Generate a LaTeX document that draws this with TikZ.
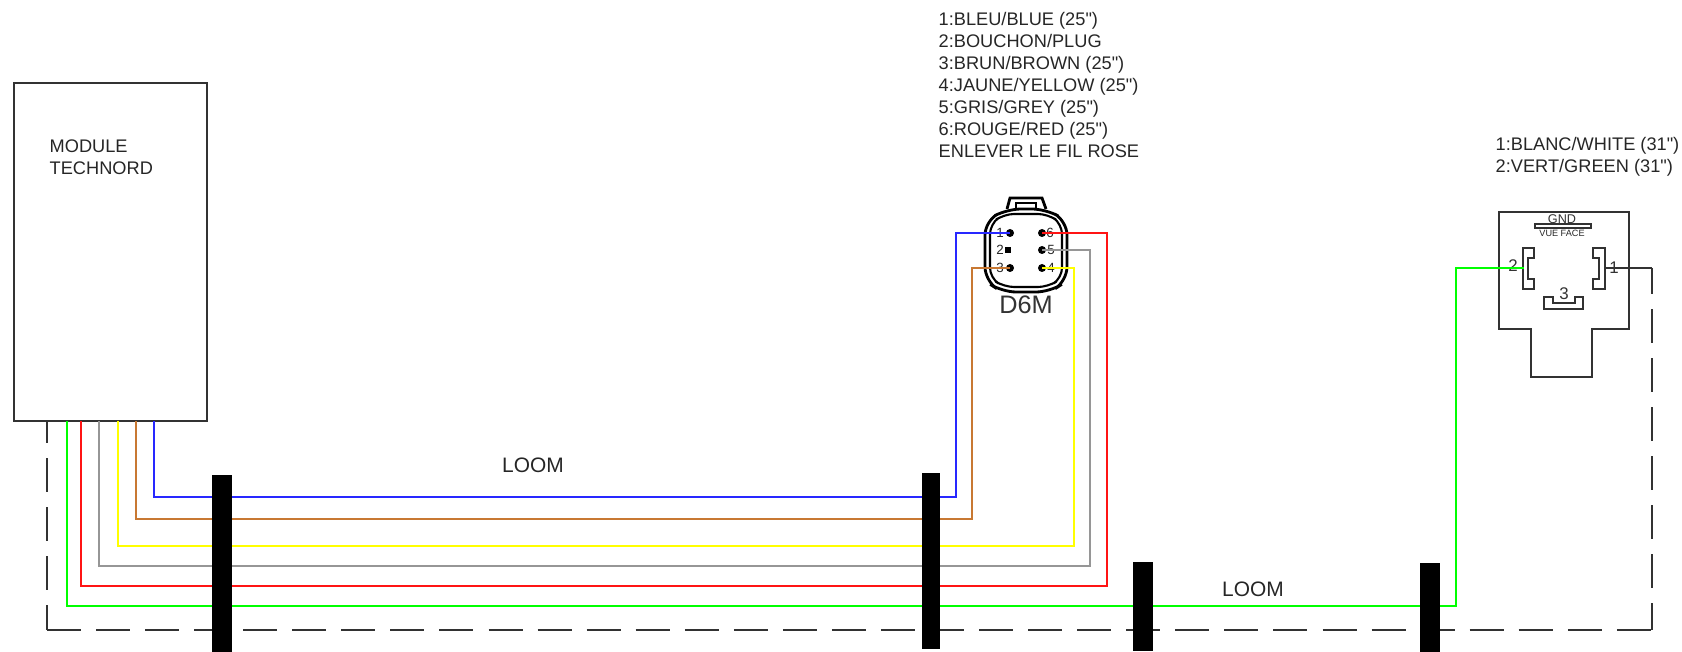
\documentclass[tikz,border=0pt]{standalone}
\usepackage{fontspec}
\setmainfont{Liberation Sans}
\newfontfamily\notefont{Liberation Sans}
\definecolor{wirebrown}{RGB}{200,120,50}
\definecolor{wiregreen}{RGB}{0,255,0}
\definecolor{wiregrey}{RGB}{150,150,150}
\definecolor{wireblue}{RGB}{40,40,255}
\definecolor{wirered}{RGB}{255,20,20}
\definecolor{wireyellow}{RGB}{255,255,0}
\definecolor{inkdark}{RGB}{50,50,50}
\tikzset{
  wire/.style={line width=.5pt},
  outline/.style={draw=inkdark,line width=.6pt},
  ground/.style={draw=inkdark,line width=.6pt,dash pattern=on 9.67pt off 4.28pt},
  bar/.style={fill=black,inner sep=0,minimum width=.19cm},
  note/.style={inner sep=0,anchor=north west,align=left,text=black!85,font=\notefont\fontsize{5.18}{6.23}\selectfont},
  pinlabel/.style={inner sep=0,text=black!85,font=\fontsize{3.8}{4}\selectfont},
  pinhole/.style={circle,fill=black,inner sep=0,minimum size=.08cm},
}
\begin{document}
\begin{tikzpicture}[x=.01cm,y=-.01cm]
\useasboundingbox (0,0) rectangle (1682,652);
% module
\node[outline,inner sep=0,minimum width=1.93cm,minimum height=3.38cm] (module) at (110.5,252) {};
\node[note] (moduletext) at (49,139) {MODULE\\TECHNORD};
% texts
\node[note] (d6mtext) at (938,12) {1:BLEU/BLUE (25")\\2:BOUCHON/PLUG\\3:BRUN/BROWN (25")\\4:JAUNE/YELLOW (25")\\5:GRIS/GREY (25")\\6:ROUGE/RED (25")\\ENLEVER LE FIL ROSE};
\node[note] (relaytext) at (1495,137) {1:BLANC/WHITE (31")\\2:VERT/GREEN (31")};
\node[inner sep=0,text=black!85,font=\fontsize{5.95}{6}\selectfont] (loomone) at (533,465) {LOOM};
\node[inner sep=0,text=black!85,font=\fontsize{5.95}{6}\selectfont] (loomtwo) at (1253,589) {LOOM};
% D6M connector
\draw[line width=.8pt] (1007,209)--(1010,198)--(1042,198)--(1046,209);
\draw[line width=.6pt] (1016,210)--(1016,203)--(1036,203)--(1036,210);
\draw[line width=.8pt,rounded corners=.14cm] (1007,209)--(1046,209)--(1067,221)--(1067,281)--(1050,292)--(1002,292)--(985,281)--(985,221)--cycle;
\draw[line width=.6pt,rounded corners=.1cm] (1004,214)--(1048,214)--(1062,224)--(1062,278)--(1048,287)--(1004,287)--(990,278)--(990,224)--cycle;
\node[pinlabel] (labelone) at (1000,233) {1};
\node[pinlabel] (labeltwo) at (1000,250) {2};
\node[pinlabel] (labelthree) at (1000,268) {3};
\node[pinlabel] (labelsix) at (1050,233) {6};
\node[pinlabel] (labelfive) at (1051,250) {5};
\node[pinlabel] (labelfour) at (1051,268) {4};
\node[pinhole] (pinone) at (1010,233) {};
\node[fill=black,inner sep=0,minimum size=.06cm] (pintwo) at (1008,250) {};
\node[pinhole] (pinthree) at (1010,268) {};
\node[pinhole] (pinsix) at (1042,233) {};
\node[pinhole] (pinfive) at (1042,250) {};
\node[pinhole] (pinfour) at (1042,268) {};
\node[inner sep=0,text=black!80,font=\fontsize{7.2}{8}\selectfont] (d6m) at (1026,305) {D6M};
% relay socket
\draw[outline] (1499,212)--(1629,212)--(1629,329)--(1592,329)--(1592,377)--(1531,377)--(1531,329)--(1499,329)--cycle;
\draw[outline] (1535,224) rectangle (1591,228);
\node[inner sep=0,text=black!80,font=\fontsize{3.6}{4}\selectfont] (gnd) at (1562,219) {GND};
\node[inner sep=0,text=black!85,font=\fontsize{2.6}{3}\selectfont] (vueface) at (1562,233) {VUE FACE};
\draw[outline] (1534,248)--(1523,248)--(1523,289)--(1534,289)--(1534,279)--(1528,279)--(1528,258)--(1534,258)--cycle;
\draw[outline] (1593,248)--(1605,248)--(1605,289)--(1593,289)--(1593,279)--(1599,279)--(1599,258)--(1593,258)--cycle;
\draw[outline] (1544,297)--(1553,297)--(1553,303)--(1575,303)--(1575,297)--(1583,297)--(1583,309)--(1544,309)--cycle;
\node[inner sep=0,text=black!80,font=\fontsize{4.8}{5}\selectfont] (socketone) at (1614,268) {1};
\node[inner sep=0,text=black!80,font=\fontsize{4.8}{5}\selectfont] (sockettwo) at (1513,266) {2};
\node[inner sep=0,text=black!80,font=\fontsize{4.8}{5}\selectfont] (socketthree) at (1564,294) {3};
% wires
\coordinate (modblue) at (154,421);
\coordinate (modbrown) at (136,421);
\coordinate (modyellow) at (118,421);
\coordinate (modgrey) at (99,421);
\coordinate (modred) at (81,421);
\coordinate (modgreen) at (67,421);
\draw[wire,wireblue] (modblue) |- (956,497) |- (pinone.center);
\draw[wire,wirebrown] (modbrown) |- (972,519) |- (pinthree.center);
\draw[wire,wireyellow] (modyellow) |- (1074,546) |- (pinfour.center);
\draw[wire,wiregrey] (modgrey) |- (1090,566) |- (pinfive.center);
\draw[wire,wirered] (modred) |- (1107,586) |- (pinsix.center);
\coordinate (socketgreen) at (1524,268);
\draw[wire,wiregreen] (modgreen) |- (1456,606) |- (socketgreen);
% ground
\coordinate (modground) at (47,421);
\coordinate (socketground) at (1605,268);
\coordinate (groundleft) at (47,630);
\coordinate (groundright) at (1652,630);
\coordinate (groundtop) at (1652,268);
\draw[ground,dash phase=3.41pt] (modground)--(groundleft);
\draw[ground] (groundleft)--(groundright);
\draw[outline] (socketground)--(groundtop);
\draw[ground,dash phase=2.28pt] (groundtop)--(groundright);
% bars
\node[bar,minimum width=.2cm,minimum height=1.77cm] (barone) at (222,563.5) {};
\node[bar,minimum width=.18cm,minimum height=1.76cm] (bartwo) at (931,561) {};
\node[bar,minimum width=.2cm,minimum height=.89cm] (barthree) at (1143,606.5) {};
\node[bar,minimum width=.2cm,minimum height=.89cm] (barfour) at (1430,607.5) {};
\end{tikzpicture}
\end{document}
